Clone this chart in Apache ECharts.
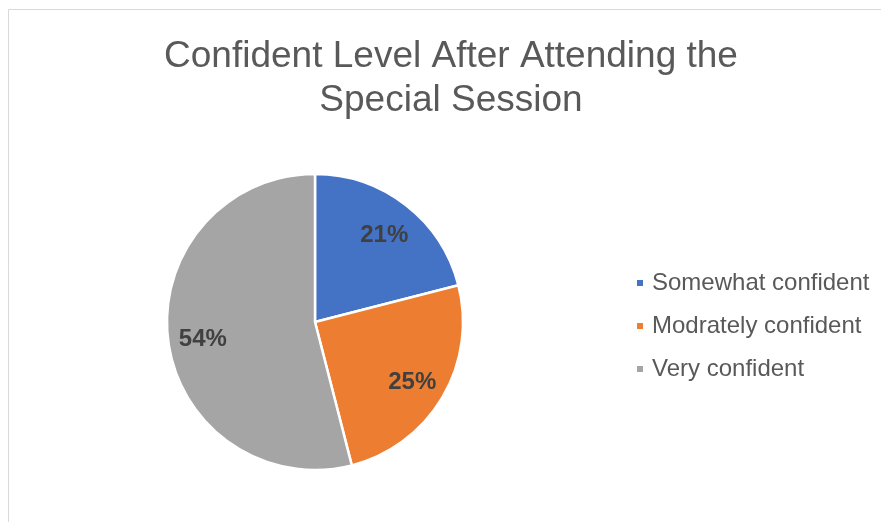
<!DOCTYPE html>
<html>
<head>
<meta charset="utf-8">
<script src="https://cdn.jsdelivr.net/npm/echarts@6/dist/echarts.min.js"></script>
<style>html,body{margin:0;padding:0;background:#fff;}#c{width:881px;height:522px;}</style>
</head>
<body>
<div id="c"></div>
<script>
const titleText = 'Confident Level After Attending the\nSpecial Session';
const categories = ['Somewhat confident', 'Modrately confident', 'Very confident'];
const values = [21, 25, 54];
const colors = ['#4472C4', '#ED7D31', '#A5A5A5'];

const chart = echarts.init(document.getElementById('c'), null, {renderer: 'canvas'});
const pieData = categories.map((n, i) => ({name: n, value: values[i], itemStyle: {color: colors[i]}}));
const labelData = categories.map((n, i) => ({name: n, value: values[i]}));

chart.setOption({
  animation: false,
  graphic: [{
    type: 'rect', silent: true, z: -10,
    shape: {x: 8.5, y: 9.5, width: 1000, height: 1000},
    style: {fill: 'none', stroke: '#d9d9d9', lineWidth: 1}
  }],
  title: {
    text: titleText,
    left: 446, textAlign: 'center', top: 30,
    textStyle: {fontFamily: 'Liberation Sans, Arial, sans-serif', fontSize: 37, fontWeight: 'normal', color: '#595959', lineHeight: 44}
  },
  legend: {
    orient: 'vertical',
    left: 630, top: 266,
    itemWidth: 8, itemHeight: 8, itemGap: 19,
    icon: 'rect',
    data: categories,
    textStyle: {fontFamily: 'Liberation Sans, Arial, sans-serif', fontSize: 24, lineHeight: 24, color: '#595959', padding: [0, 0, 0, 3]}
  },
  series: [{
    type: 'pie',
    center: [315, 322], radius: 148,
    startAngle: 90, clockwise: true,
    label: {show: false}, labelLine: {show: false},
    itemStyle: {borderColor: '#fff', borderWidth: 2.5},
    emphasis: {disabled: true},
    data: pieData
  }, {
    type: 'pie', silent: true,
    center: [315, 325], radius: [72, 148],
    startAngle: 90, clockwise: true,
    itemStyle: {color: 'rgba(0,0,0,0)'},
    legendHoverLink: false,
    label: {
      show: true, position: 'inside',
      formatter: p => p.value + '%',
      fontFamily: 'Liberation Sans, Arial, sans-serif', fontSize: 24, fontWeight: 'bold', color: '#404040'
    },
    labelLine: {show: false},
    emphasis: {disabled: true},
    data: labelData
  }]
});
</script>
</body>
</html>
